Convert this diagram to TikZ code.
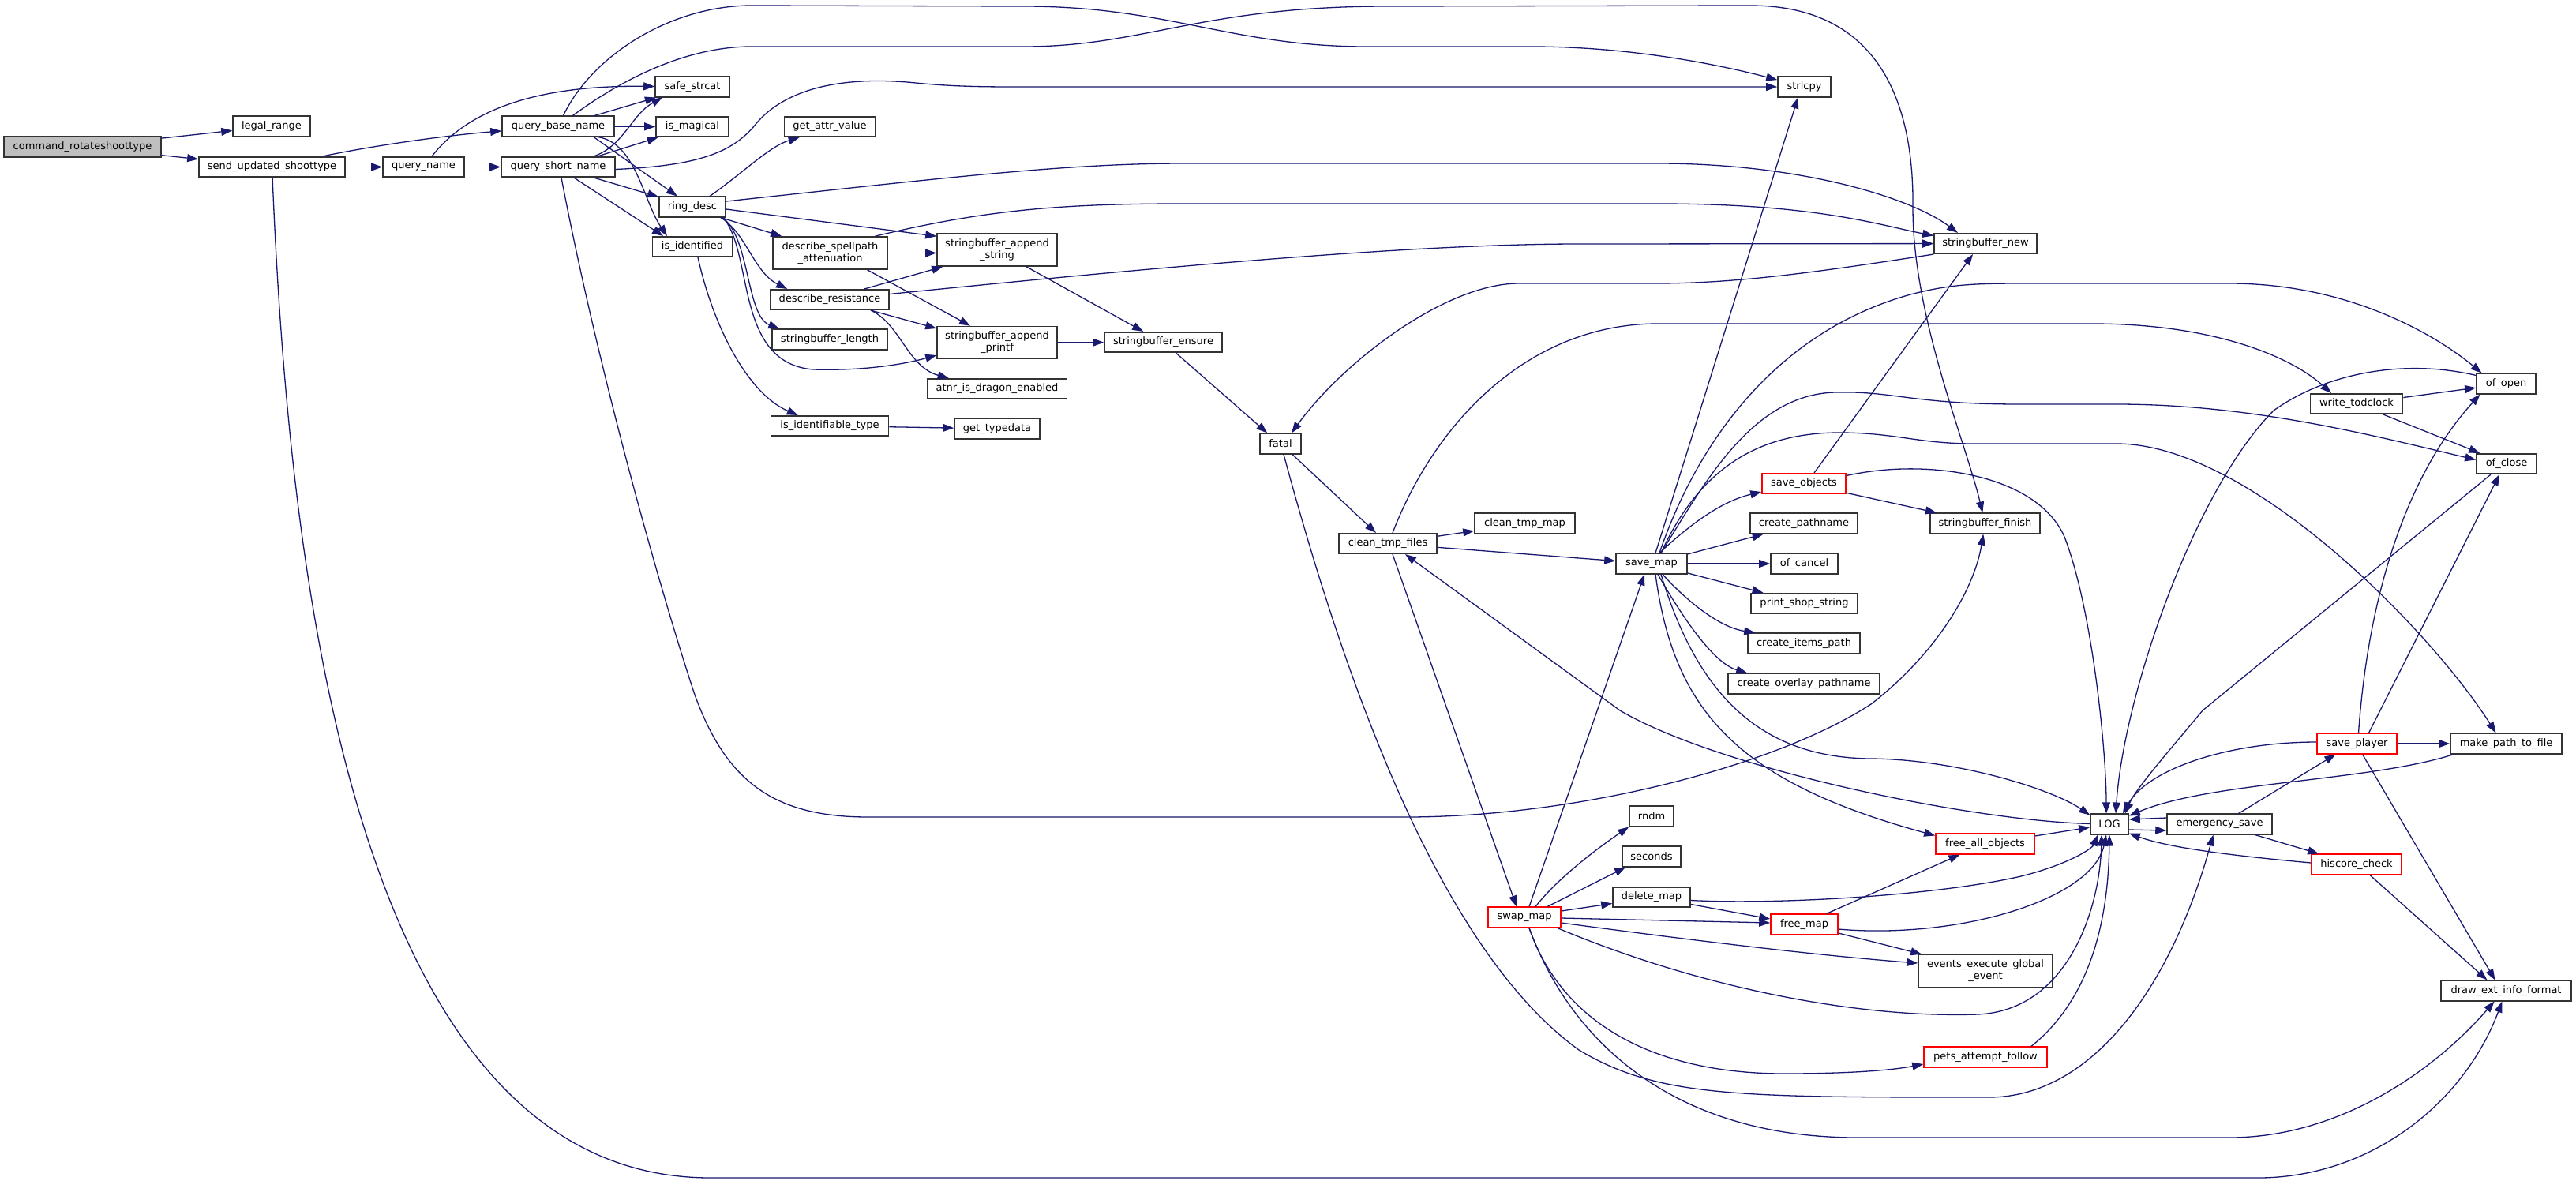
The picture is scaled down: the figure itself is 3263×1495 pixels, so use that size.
\documentclass[tikz,border=0pt]{standalone}
\usepackage{fontspec}
\setmainfont{DejaVu Sans}
\usetikzlibrary{arrows.meta,calc}
\definecolor{edgec}{HTML}{191970}
\definecolor{boxc}{HTML}{333333}
\definecolor{rootfill}{HTML}{BFBFBF}
\tikzset{
 nd/.style={draw=boxc, line width=0.8pt, rectangle, inner sep=0pt, minimum height=12.75pt, font=\fontsize{6.5pt}{7.5pt}\selectfont, fill=white},
 ndr/.style={nd, draw=red},
 nd2/.style={nd, minimum height=20.5pt, align=center},
 bw/.style={minimum width=#1*0.5pt},
 arr/.style={draw=edgec, line width=0.65pt, -{Triangle[length=7pt,width=5pt]}},
}
\begin{document}
\begin{tikzpicture}[x=0.5pt,y=-0.5pt]
\fill[white] (0,0) rectangle (3263,1495);
\useasboundingbox (0,0) rectangle (3263,1495);
% nodes
\node[nd,bw=199,fill=rootfill] (cmd) at (104.5,186) {command\_rotateshoottype};
\node[nd,bw=98] (legal) at (344,160) {legal\_range};
\node[nd,bw=185] (send) at (344.5,211.5) {send\_updated\_shoottype};
\node[nd,bw=103] (qname) at (536.5,211.5) {query\_name};
\node[nd,bw=142] (qbase) at (707,160) {query\_base\_name};
\node[nd,bw=144] (qshort) at (707,211.5) {query\_short\_name};
\node[nd,bw=94] (safe) at (877,110) {safe\_strcat};
\node[nd,bw=92] (magical) at (877,160.5) {is\_magical};
\node[nd,bw=115] (getattr) at (1051,160.5) {get\_attr\_value};
\node[nd,bw=84] (ring) at (877,262) {ring\_desc};
\node[nd,bw=101] (isid) at (877,312.5) {is\_identified};
\node[nd2,bw=145] (dsa) at (1051.5,320.5) {describe\_spellpath\\\_attenuation};
\node[nd2,bw=152] (sbas) at (1263,316.5) {stringbuffer\_append\\\_string};
\node[nd,bw=150] (dres) at (1051,379.5) {describe\_resistance};
\node[nd,bw=146] (sblen) at (1051,430) {stringbuffer\_length};
\node[nd2,bw=152] (sbap) at (1263,434) {stringbuffer\_append\\\_printf};
\node[nd,bw=149] (sbens) at (1473.5,433.5) {stringbuffer\_ensure};
\node[nd,bw=177] (atnr) at (1263,492.5) {atnr\_is\_dragon\_enabled};
\node[nd,bw=149] (isidt) at (1051,539.5) {is\_identifiable\_type};
\node[nd,bw=108] (gettd) at (1263,543) {get\_typedata};
\node[nd,bw=67] (strlcpy) at (2285.5,110) {strlcpy};
\node[nd,bw=130] (sbnew) at (2515,308.5) {stringbuffer\_new};
\node[nd,bw=52] (fatal) at (1622,562) {fatal};
\node[nd,bw=124] (ctf) at (1758,688.5) {clean\_tmp\_files};
\node[nd,bw=127] (ctm) at (1931.5,663) {clean\_tmp\_map};
\node[nd,bw=90] (savemap) at (2092,714) {save\_map};
\node[ndr,bw=106] (saveobj) at (2285,612.5) {save\_objects};
\node[nd,bw=136] (cpath) at (2285,663) {create\_pathname};
\node[nd,bw=85] (ofcancel) at (2285.5,714) {of\_cancel};
\node[nd,bw=135] (pss) at (2285.5,764.5) {print\_shop\_string};
\node[nd,bw=142] (cip) at (2285,815) {create\_items\_path};
\node[nd,bw=192] (cop) at (2285,866) {create\_overlay\_pathname};
\node[nd,bw=139] (sbfin) at (2514.5,663) {stringbuffer\_finish};
\node[nd,bw=117] (wtc) at (2985,511.5) {write\_todclock};
\node[nd,bw=75] (ofopen) at (3174.5,486) {of\_open};
\node[nd,bw=76] (ofclose) at (3175,587.5) {of\_close};
\node[nd,bw=56] (rndm) at (2092,1034) {rndm};
\node[nd,bw=74] (seconds) at (2092,1085) {seconds};
\node[nd,bw=98] (delmap) at (2092,1136.5) {delete\_map};
\node[ndr,bw=92] (swapmap) at (1931,1162) {swap\_map};
\node[ndr,bw=85] (freemap) at (2285.5,1171) {free\_map};
\node[nd,bw=48] (log) at (2672,1044) {LOG};
\node[nd,bw=133] (esave) at (2811.5,1044) {emergency\_save};
\node[ndr,bw=101] (splayer) at (2985.5,942) {save\_player};
\node[nd,bw=141] (mptf) at (3174.5,942) {make\_path\_to\_file};
\node[ndr,bw=114] (hiscore) at (2985,1095) {hiscore\_check};
\node[ndr,bw=125] (fao) at (2514.5,1069) {free\_all\_objects};
\node[nd2,bw=170] (eege) at (2515,1230) {events\_execute\_global\\\_event};
\node[ndr,bw=156] (paf) at (2515,1339) {pets\_attempt\_follow};
\node[nd,bw=165] (deif) at (3174.5,1255) {draw\_ext\_info\_format};
% edges
\draw[arr] (cmd) -- (legal);
\draw[arr] (cmd) -- (send);
\draw[arr] (send) .. controls (470,185) and (560,172) .. (qbase);
\draw[arr] (send) -- (qname);
\draw[arr] (send) .. controls (365,700) and (440,1492) .. (900,1492) -- (2860,1492) .. controls (3000,1492) and (3120,1400) .. (deif);
\draw[arr] (qname) .. controls (600,130) and (700,108) .. (safe);
\draw[arr] (qname) -- (qshort);
\draw[arr] (qbase) .. controls (750,70) and (850,7) .. (952,7) -- (1297,8) .. controls (1480,8) and (1560,59) .. (1731,59) -- (1940,59) .. controls (2060,59) and (2170,80) .. (strlcpy);
\draw[arr] (qbase) .. controls (775,110) and (860,59) .. (952,59) -- (1297,59) .. controls (1450,59) and (1520,8) .. (1757,8) -- (2217,7) .. controls (2380,7) and (2424,130) .. (2423,260) .. controls (2422,400) and (2490,560) .. (sbfin);
\draw[arr] (qbase) -- (safe);
\draw[arr] (qbase) -- (magical);
\draw[arr] ($(qbase.south)+(45,0)$) -- (ring);
\draw[arr] ($(qbase.south)+(50,0)$) .. controls (805,180) and (815,255) .. ($(isid.north)+(-32,0)$);
\draw[arr] ($(qshort.north)+(45,0)$) .. controls (790,185) and (800,145) .. ($(safe.south)+(-38,0)$);
\draw[arr] ($(qshort.north)+(50,0)$) -- (magical);
\draw[arr] ($(qshort.east)+(0,3)$) .. controls (880,210) and (925,195) .. (955,160) .. controls (990,115) and (1060,95) .. (1160,105) .. controls (1210,110) and (1250,110) .. (1300,110) -- (strlcpy);
\draw[arr] ($(qshort.south)+(45,0)$) -- (ring);
\draw[arr] ($(qshort.south)+(20,0)$) -- ($(isid.north)+(-37,0)$);
\draw[arr] ($(qshort.south)+(4,0)$) .. controls (760,480) and (840,760) .. (880,880) .. controls (920,990) and (980,1035) .. (1100,1035) -- (1780,1035) .. controls (2000,1035) and (2250,970) .. (2370,892) .. controls (2450,830) and (2500,750) .. (sbfin);
\draw[arr] ($(ring.north)+(22,0)$) .. controls (940,220) and (975,185) .. ($(getattr.south west)+(20,0)$);
\draw[arr] ($(ring.east)+(0,-7)$) .. controls (1200,225) and (1350,207) .. (1500,207) -- (2100,207) .. controls (2280,207) and (2420,250) .. ($(sbnew.north)+(-35,0)$);
\draw[arr] ($(ring.east)+(0,3)$) -- ($(sbas.north west)+(0,4)$);
\draw[arr] ($(ring.south east)+(-7,0)$) -- ($(dsa.north west)+(12,0)$);
\draw[arr] ($(ring.south east)+(-7,0)$) .. controls (945,295) and (955,345) .. ($(dres.north west)+(22,0)$);
\draw[arr] ($(ring.south east)+(-5,0)$) .. controls (950,300) and (945,400) .. ($(sblen.north west)+(10,0)$);
\draw[arr] ($(ring.south east)+(-4,0)$) .. controls (955,320) and (930,460) .. (1030,468) .. controls (1100,470) and (1150,460) .. ($(sbap.west)+(0,16)$);
\draw[arr] ($(isid.south)+(7,0)$) .. controls (905,420) and (950,500) .. ($(isidt.north west)+(35,0)$);
\draw[arr] (isidt) -- (gettd);
\draw[arr] (dsa) -- ($(sbas.west)+(0,4)$);
\draw[arr] ($(dsa.south)+(47,0)$) -- ($(sbap.north)+(-34,0)$);
\draw[arr] ($(dsa.north)+(57,0)$) .. controls (1250,265) and (1350,258) .. (1500,258) -- (2100,258) .. controls (2300,258) and (2380,285) .. ($(sbnew.west)+(0,-10)$);
\draw[arr] ($(dres.north)+(44,0)$) -- ($(sbas.south west)+(8,0)$);
\draw[arr] ($(dres.south)+(52,0)$) -- ($(sbap.west)+(0,-18)$);
\draw[arr] ($(dres.south)+(52,0)$) .. controls (1140,410) and (1150,465) .. ($(atnr.north west)+(28,0)$);
\draw[arr] ($(dres.east)+(0,-7)$) .. controls (1500,335) and (1800,309) .. (2000,309) -- (sbnew);
\draw[arr] ($(sbas.south)+(37,0)$) -- ($(sbens.north west)+(50,0)$);
\draw[arr] (sbap) -- (sbens);
\draw[arr] ($(sbens.south)+(16,0)$) -- ($(fatal.north west)+(10,0)$);
\draw[arr] (sbnew.south west) .. controls (2300,345) and (2200,359) .. (2097,359) -- (1924,359) .. controls (1830,359) and (1700,460) .. ($(fatal.north)+(14,0)$);
\draw[arr] ($(fatal.south)+(15,0)$) -- ($(ctf.north)+(-15,0)$);
\draw[arr] ($(fatal.south)+(4,0)$) .. controls (1700,850) and (1820,1200) .. (2000,1330) .. controls (2100,1390) and (2200,1390) .. (2519,1390) .. controls (2650,1390) and (2750,1250) .. ($(esave.south)+(-8,0)$);
\draw[arr] (ctf) -- (ctm);
\draw[arr] (ctf) -- (savemap);
\draw[arr] ($(ctf.north)+(6,0)$) .. controls (1820,530) and (1940,410) .. (2100,410) -- (2650,410) .. controls (2800,410) and (2900,450) .. ($(wtc.north)+(-32,0)$);
\draw[arr] ($(ctf.south)+(6,0)$) -- ($(swapmap.north)+(-10,0)$);
\draw[arr] (log) .. controls (2500,1040) and (2180,975) .. (2052,900) -- ($(ctf.south)+(22,0)$);
\draw[arr] ($(savemap.north)+(5,0)$) -- ($(strlcpy.south)+(-8,0)$);
\draw[arr] ($(savemap.north)+(10,0)$) .. controls (2150,560) and (2250,420) .. (2420,373) .. controls (2470,360) and (2500,359) .. (2565,359) -- (2824,359) .. controls (2970,359) and (3080,420) .. ($(ofopen.north)+(-31,0)$);
\draw[arr] ($(savemap.north)+(12,0)$) .. controls (2160,610) and (2220,500) .. (2324,497) .. controls (2400,495) and (2420,512) .. (2560,512) -- (2681,512) .. controls (2850,512) and (3000,550) .. ($(ofclose.west)+(0,-5)$);
\draw[arr] ($(savemap.north)+(12,0)$) .. controls (2150,600) and (2220,548) .. (2330,548) .. controls (2400,548) and (2430,562) .. (2500,562) -- (2681,562) .. controls (2850,562) and (3080,800) .. ($(mptf.north)+(-13,0)$);
\draw[arr] ($(savemap.north)+(10,0)$) .. controls (2140,665) and (2180,635) .. ($(saveobj.south west)+(0,-3)$);
\draw[arr] (savemap) -- (cpath);
\draw[arr] (savemap) -- (ofcancel);
\draw[arr] (savemap) -- (pss);
\draw[arr] ($(savemap.south)+(14,0)$) .. controls (2140,765) and (2180,795) .. ($(cip.north west)+(10,0)$);
\draw[arr] ($(savemap.south)+(8,0)$) .. controls (2130,780) and (2170,840) .. ($(cop.north west)+(25,0)$);
\draw[arr] ($(savemap.south)+(5,0)$) .. controls (2120,900) and (2200,990) .. ($(fao.north west)+(0,3)$);
\draw[arr] ($(savemap.south)+(12,0)$) .. controls (2150,880) and (2230,960) .. (2370,961) .. controls (2480,962) and (2600,1000) .. ($(log.north west)+(0,2)$);
\draw[arr] ($(saveobj.north)+(13,0)$) -- ($(sbnew.south)+(-16,0)$);
\draw[arr] (saveobj) -- (sbfin);
\draw[arr] ($(saveobj.east)+(0,-10)$) .. controls (2440,580) and (2580,600) .. (2615,680) .. controls (2650,770) and (2668,950) .. ($(log.north)+(-4,0)$);
\draw[arr] (wtc) -- (ofopen);
\draw[arr] (wtc) -- (ofclose);
\draw[arr] ($(ofopen.north west)+(0,3)$) .. controls (3050,455) and (2950,470) .. (2880,520) .. controls (2780,620) and (2690,880) .. ($(log.north)+(8,0)$);
\draw[arr] ($(ofclose.south)+(-20,0)$) -- (2790,900) .. controls (2740,960) and (2705,1000) .. ($(log.north east)+(-5,0)$);
\draw[arr] ($(splayer.north)+(2,0)$) .. controls (3000,750) and (3050,600) .. ($(ofopen.south)+(-33,0)$);
\draw[arr] ($(splayer.north)+(15,0)$) -- ($(ofclose.south)+(-9,0)$);
\draw[arr] (splayer) -- (mptf);
\draw[arr] ($(splayer.west)+(0,-2)$) .. controls (2820,940) and (2720,975) .. ($(log.north east)+(-8,0)$);
\draw[arr] ($(splayer.south)+(7,0)$) -- ($(deif.north)+(-14,0)$);
\draw[arr] ($(mptf.south west)+(5,0)$) .. controls (3000,990) and (2800,990) .. ($(log.north east)+(0,3)$);
\draw[arr] ($(esave.west)+(0,-8)$) -- ($(log.east)+(0,-6)$);
\draw[arr] ($(log.east)+(0,7)$) -- ($(esave.west)+(0,8)$);
\draw[arr] ($(esave.north)+(24,0)$) -- ($(splayer.south)+(-27,0)$);
\draw[arr] ($(esave.south)+(45,0)$) -- ($(hiscore.north west)+(10,0)$);
\draw[arr] ($(hiscore.west)+(0,-2)$) .. controls (2840,1085) and (2750,1075) .. ($(log.south east)+(0,-2)$);
\draw[arr] ($(hiscore.south)+(17,0)$) -- ($(deif.north)+(-24,0)$);
\draw[arr] ($(swapmap.north)+(14,0)$) .. controls (1975,1110) and (2030,1070) .. (rndm.south west);
\draw[arr] ($(swapmap.north)+(29,0)$) -- ($(seconds.south west)+(5,0)$);
\draw[arr] ($(swapmap.east)+(0,-8)$) -- ($(delmap.west)+(0,8)$);
\draw[arr] ($(swapmap.east)+(0,1)$) -- ($(freemap.west)+(0,-2)$);
\draw[arr] ($(delmap.east)+(0,9)$) -- ($(freemap.west)+(0,-7)$);
\draw[arr] ($(delmap.east)+(0,4)$) .. controls (2250,1146) and (2450,1135) .. (2560,1110) .. controls (2620,1095) and (2650,1075) .. ($(log.south west)+(10,0)$);
\draw[arr] ($(swapmap.east)+(0,7)$) .. controls (2150,1192) and (2300,1210) .. ($(eege.west)+(0,-10)$);
\draw[arr] ($(freemap.east)+(0,11)$) -- ($(eege.north west)+(5,0)$);
\draw[arr] ($(freemap.north)+(28,0)$) -- ($(fao.south)+(-32,0)$);
\draw[arr] ($(freemap.east)+(0,6)$) .. controls (2480,1190) and (2650,1140) .. ($(log.south)+(-4,0)$);
\draw[arr] (fao) -- (log);
\draw[arr] ($(swapmap.south east)+(-5,0)$) .. controls (2150,1250) and (2350,1290) .. (2505,1285) .. controls (2620,1280) and (2660,1150) .. ($(log.south)+(-10,0)$);
\draw[arr] ($(swapmap.south)+(6,0)$) .. controls (1980,1300) and (2100,1360) .. (2260,1360) .. controls (2350,1360) and (2400,1355) .. ($(paf.west)+(0,9)$);
\draw[arr] ($(swapmap.south)+(6,0)$) .. controls (1990,1320) and (2120,1440) .. (2350,1441) -- (2824,1441) .. controls (2960,1441) and (3080,1360) .. ($(deif.south)+(-15,0)$);
\draw[arr] ($(paf.north east)+(-21,0)$) .. controls (2630,1280) and (2670,1200) .. (log.south);
\draw[arr] ($(swapmap.north)+(6,0)$) -- ($(savemap.south)+(-9,0)$);
\end{tikzpicture}
\end{document}
